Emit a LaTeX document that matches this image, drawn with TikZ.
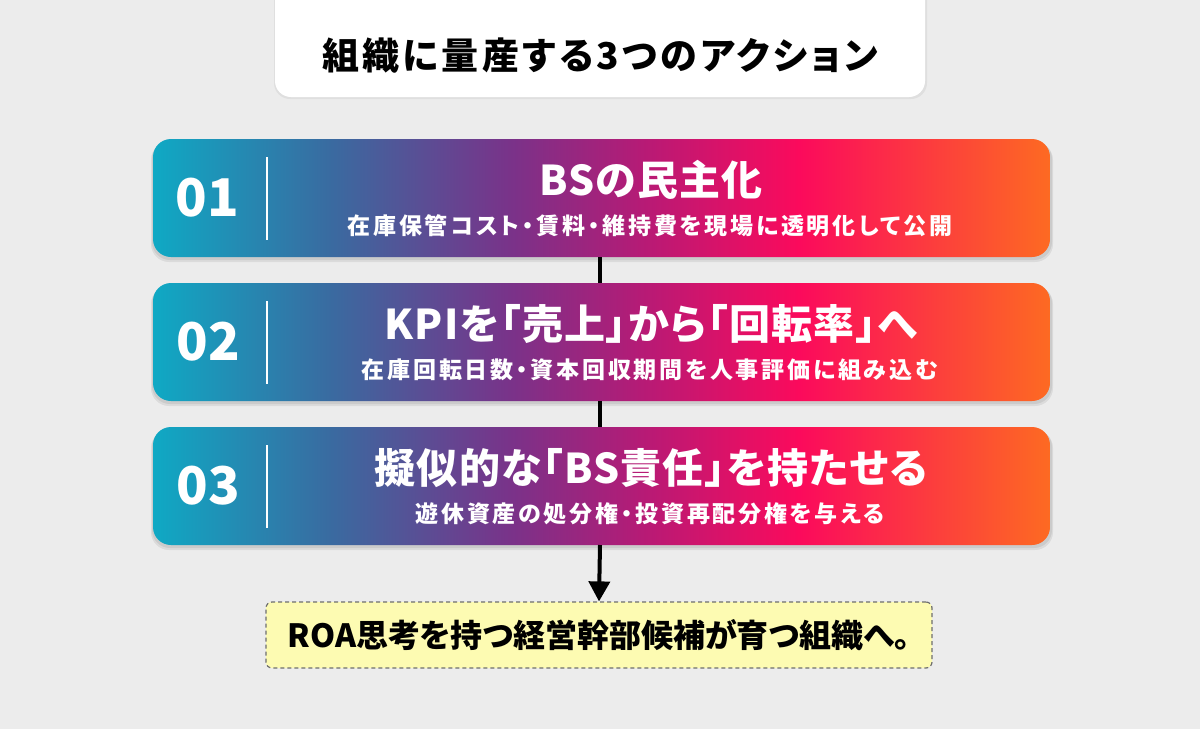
\documentclass[tikz,border=0pt]{standalone}
\usepackage{fontspec}
\newfontfamily\jp{Noto Sans CJK JP}
\newfontfamily\jpp{Noto Sans CJK JP}[RawFeature=+palt]
\usetikzlibrary{arrows.meta}
\definecolor{bg}{HTML}{ECECEC}
\definecolor{gA}{HTML}{0FA9C4}
\definecolor{gB}{HTML}{3A6AA0}
\definecolor{gC}{HTML}{7A3289}
\definecolor{gD}{HTML}{B81A75}
\definecolor{gE}{HTML}{FB0A5C}
\definecolor{gF}{HTML}{FD6A22}
\definecolor{noteFill}{HTML}{FDFBB2}
\definecolor{noteLine}{HTML}{6E6E6E}
\pgfdeclarehorizontalshading{actgrad}{100bp}{color(0bp)=(gA); color(25bp)=(gA); color(35bp)=(gB); color(45bp)=(gC); color(52.5bp)=(gD); color(61bp)=(gE); color(75bp)=(gF); color(100bp)=(gF)}
\tikzset{
  actbox/.style={rounded corners=18pt, shading=actgrad},
  shadowbox/.style={rounded corners=18pt, fill=black, opacity=0.07},
  numtxt/.style={text=white, font=\jp\bfseries\fontsize{52}{52}\selectfont, inner sep=0pt},
  headtxt/.style={text=white, font=\jpp\bfseries\fontsize{41}{41}\selectfont\addfontfeature{LetterSpace=3}, inner sep=0pt},
  subtxt/.style={text=white, font=\jpp\bfseries\fontsize{23}{23}\selectfont\addfontfeature{LetterSpace=12}, inner sep=0pt},
  divider/.style={draw=white, line width=1.6pt},
  link/.style={draw=black, line width=4pt},
}
\begin{document}
\begin{tikzpicture}[x=1pt,y=-1pt]
\useasboundingbox (0,0) rectangle (1200,729);
\fill[bg] (0,0) rectangle (1200,729);
% title box
\fill[black,opacity=0.05,rounded corners=16pt] (274,-20) rectangle (927,99);
\fill[white,rounded corners=16pt] (275,-20) rectangle (925,97);
\node[font=\jpp\bfseries\fontsize{37}{37}\selectfont\addfontfeature{LetterSpace=9}, inner sep=0pt] (title) at (600,56) {組織に量産する3つのアクション};
% boxes
\foreach \i/\yt in {1/139,2/283,3/427}{
  \fill[shadowbox] (151,\yt+3) rectangle (1053,\yt+123);
  \fill[shadowbox] (152,\yt+2) rectangle (1052,\yt+121);
  \shade[actbox] (153,\yt) rectangle (1050,\yt+118);
  \draw[divider] (267,\yt+18) -- (267,\yt+101);
}
\node[numtxt] (n1) at (207,198) {01};
\node[headtxt] (h1) at (651,180) {BSの民主化};
\node[subtxt] (s1) at (650,226) {在庫保管コスト・賃料・維持費を現場に透明化して公開};
\node[numtxt] (n2) at (208,342) {02};
\node[headtxt] (h2) at (651,324) {KPIを「売上」から「回転率」へ};
\node[subtxt] (s2) at (650,370) {在庫回転日数・資本回収期間を人事評価に組み込む};
\node[numtxt] (n3) at (208,486) {03};
\node[headtxt] (h3) at (651,468) {擬似的な「BS責任」を持たせる};
\node[subtxt] (s3) at (650,514) {遊休資産の処分権・投資再配分権を与える};
% box anchors
\coordinate (b1) at (600,257);
\coordinate (t2) at (600,283);
\coordinate (b2) at (600,401);
\coordinate (t3) at (600,427);
\coordinate (b3) at (600,545);
\draw[link] (b1) -- (t2);
\draw[link] (b2) -- (t3);
% note box
\node[draw=noteLine, line width=1.2pt, dash pattern=on 4pt off 3pt, fill=noteFill, rounded corners=6pt, minimum width=666pt, minimum height=66pt, inner sep=0pt,
  font=\jpp\bfseries\fontsize{32}{32}\selectfont] (note) at (599,635) {ROA思考を持つ経営幹部候補が育つ組織へ。};
\draw[link, -{Triangle[width=21pt,length=20pt]}] (b3) -- (note.north);
\end{tikzpicture}
\end{document}
